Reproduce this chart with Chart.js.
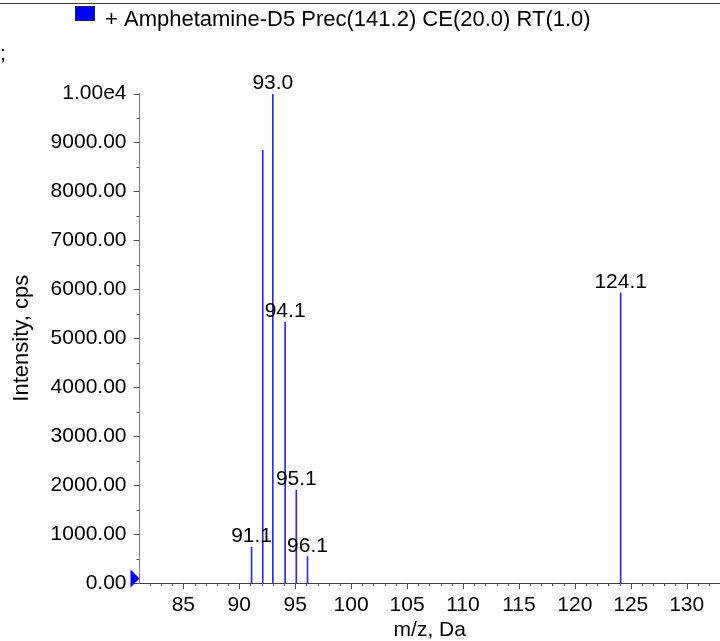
<!DOCTYPE html>
<html>
<head>
<meta charset="utf-8">
<script src="https://cdn.jsdelivr.net/npm/chart.js@4.4.1/dist/chart.umd.min.js"></script>
<style>
  html, body { margin: 0; padding: 0; background: #ffffff; }
  #wrap { position: relative; width: 720px; height: 641px; }
  canvas { display: block; }
</style>
</head>
<body>
<div id="wrap"><canvas id="c" width="720" height="641"></canvas></div>
<script>
// ---- data ----
const peakMz = [91.1, 92.1, 93.0, 94.1, 95.1, 96.1, 124.1];
const peakIntensity = [735, 8840, 9990, 5330, 1900, 540, 5930];
const peakLabels = ['91.1', '', '93.0', '94.1', '95.1', '96.1', '124.1'];
const xTickValues = [85, 90, 95, 100, 105, 110, 115, 120, 125, 130];
const yTickValues = [0, 1000, 2000, 3000, 4000, 5000, 6000, 7000, 8000, 9000, 10000];
const seriesName = '+ Amphetamine-D5 Prec(141.2) CE(20.0) RT(1.0)';
const xTitle = 'm/z, Da';
const yTitle = 'Intensity, cps';

const FONT = '"Liberation Sans", Arial, sans-serif';

const decorPlugin = {
  id: 'decor',
  afterDraw(chart) {
    const ctx = chart.ctx;
    const ca = chart.chartArea;
    const xs = chart.scales.x, ys = chart.scales.y;
    ctx.save();
    // top frame line
    ctx.strokeStyle = '#404040';
    ctx.lineWidth = 1;
    ctx.beginPath(); ctx.moveTo(0, 3.5); ctx.lineTo(720, 3.5); ctx.stroke();
    // legend swatch + text
    ctx.fillStyle = '#0000ff';
    ctx.fillRect(75, 6, 20, 15);
    ctx.strokeStyle = '#202060';
    ctx.strokeRect(75.5, 6.5, 19, 14);
    ctx.fillStyle = '#000000';
    ctx.font = '22px ' + FONT;
    ctx.textAlign = 'left'; ctx.textBaseline = 'alphabetic';
    ctx.fillText(seriesName, 105, 26);
    // stray fragment at left
    ctx.font = '21px ' + FONT;
    ctx.fillText(';', 0, 60);

    // y ticks (major + minor)
    ctx.strokeStyle = '#505050';
    ctx.beginPath();
    for (let v = 0; v <= 10000; v += 500) {
      const y = Math.round(ys.getPixelForValue(v)) + 0.5;
      const len = (v % 1000 === 0) ? 6 : 3;
      ctx.moveTo(ca.left - len, y); ctx.lineTo(ca.left, y);
    }
    ctx.stroke();
    // x ticks
    ctx.beginPath();
    for (let v = 82; v <= 132; v += 1) {
      const x = Math.round(xs.getPixelForValue(v)) + 0.5;
      const len = (v % 5 === 0) ? 6 : 3;
      ctx.moveTo(x, ca.bottom); ctx.lineTo(x, ca.bottom + len);
    }
    ctx.stroke();

    // zero marker triangle
    const y0 = ys.getPixelForValue(0);
    ctx.fillStyle = '#0000ff';
    ctx.beginPath();
    ctx.moveTo(130.5, y0 - 13.5);
    ctx.lineTo(130.5, y0 + 4.5);
    ctx.lineTo(139.5, y0 - 4.5);
    ctx.closePath();
    ctx.fill();

    // peak labels
    ctx.fillStyle = '#000000';
    ctx.font = '21px ' + FONT;
    ctx.textAlign = 'center'; ctx.textBaseline = 'alphabetic';
    const meta = chart.getDatasetMeta(0);
    meta.data.forEach((el, i) => {
      if (!peakLabels[i]) return;
      ctx.fillText(peakLabels[i], el.x, el.y - 5);
    });
    ctx.restore();
  }
};

new Chart(document.getElementById('c'), {
  type: 'bar',
  data: {
    datasets: [{
      data: peakMz.map((m, i) => ({ x: m, y: peakIntensity[i] })),
      backgroundColor: '#2a2aff',
      borderWidth: 0,
      barThickness: 1,
      grouped: false
    }]
  },
  options: {
    responsive: false,
    animation: false,
    events: [],
    layout: { padding: { top: 93.5, right: 0, bottom: 0, left: 0 } },
    plugins: { legend: { display: false }, title: { display: false }, tooltip: { enabled: false } },
    scales: {
      x: {
        type: 'linear',
        min: 81.08,
        max: 132.98,
        offset: false,
        afterBuildTicks: s => { s.ticks = xTickValues.map(v => ({ value: v })); },
        afterFit: s => { s.height = 58; },
        grid: { display: false, drawTicks: false },
        border: { display: true, color: '#404040', width: 1 },
        ticks: {
          padding: 10, color: '#000000', autoSkip: false, maxRotation: 0,
          font: { family: FONT, size: 21 },
          callback: v => String(v)
        },
        title: {
          display: true, text: xTitle, color: '#000000',
          font: { family: FONT, size: 21 }, padding: { top: 0, bottom: -2 }
        }
      },
      y: {
        type: 'linear',
        min: 0,
        max: 10000,
        afterBuildTicks: s => { s.ticks = yTickValues.map(v => ({ value: v })); },
        afterFit: s => { s.width = 139.5; },
        grid: { display: false, drawTicks: false },
        border: { display: true, color: '#808080', width: 1 },
        ticks: {
          padding: 13, color: '#000000', autoSkip: false,
          font: { family: FONT, size: 21 },
          callback: v => (v === 10000 ? '1.00e4' : Number(v).toFixed(2))
        },
        title: {
          display: true, text: yTitle, color: '#000000',
          font: { family: FONT, size: 22 }, padding: { top: 9, bottom: 0 }
        }
      }
    }
  },
  plugins: [decorPlugin]
});
</script>
</body>
</html>
